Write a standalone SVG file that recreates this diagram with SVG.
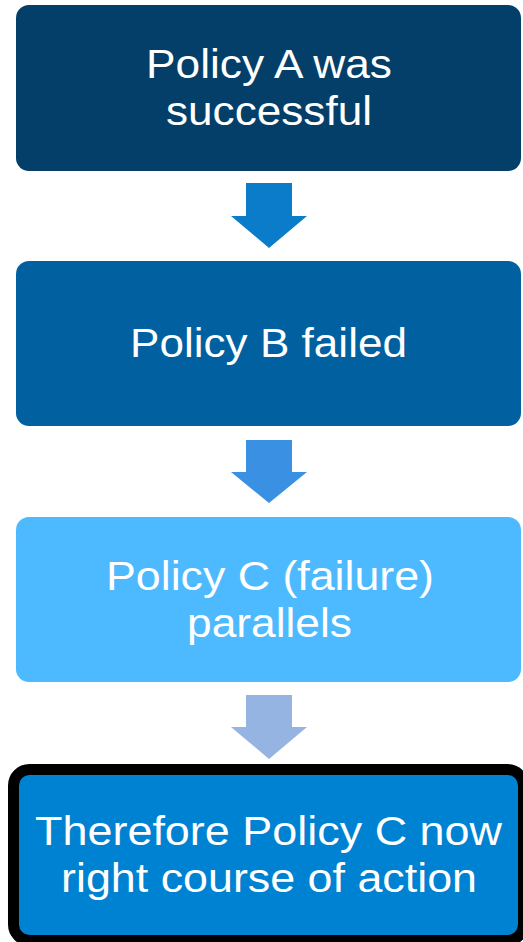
<svg xmlns="http://www.w3.org/2000/svg" width="523" height="942" viewBox="0 0 523 942">
<style>
.t{font-family:"Liberation Sans",Arial,sans-serif;font-size:41px;fill:#fff;text-anchor:middle}
</style>
<rect width="523" height="942" fill="#fff"/>
<g id="connectors">
<polygon points="246,183 292,183 292,216 307,216 269,248 231,216 246,216" fill="#0a7cc9"/>
<polygon points="246,440 292,440 292,472 307,472 269,503 231,472 246,472" fill="#3a90e2"/>
<polygon points="246,695 292,695 292,727 307,727 269,759 231,727 246,727" fill="#95b4e2"/>
</g>
<g id="nodeA">
<rect x="16" y="5" width="505" height="166" rx="13" fill="#033f69"/>
<text class="t" x="269" y="78" textLength="246" lengthAdjust="spacingAndGlyphs">Policy A was</text>
<text class="t" x="269" y="125" textLength="206" lengthAdjust="spacingAndGlyphs">successful</text>
</g>
<g id="nodeB">
<rect x="16" y="261" width="505" height="165" rx="13" fill="#0060a0"/>
<text class="t" x="268.5" y="357" textLength="277" lengthAdjust="spacingAndGlyphs">Policy B failed</text>
</g>
<g id="nodeC">
<rect x="16" y="517" width="505" height="165" rx="13" fill="#4dbaff"/>
<text class="t" x="270" y="590" textLength="328" lengthAdjust="spacingAndGlyphs">Policy C (failure)</text>
<text class="t" x="269.5" y="637" textLength="165" lengthAdjust="spacingAndGlyphs">parallels</text>
</g>
<g id="nodeD">
<rect x="13.5" y="769.5" width="510" height="171" rx="16" fill="#0082d2" stroke="#000" stroke-width="11"/>
<text class="t" x="268.5" y="845" textLength="467" lengthAdjust="spacingAndGlyphs">Therefore Policy C now</text>
<text class="t" x="269" y="892" textLength="416" lengthAdjust="spacingAndGlyphs">right course of action</text>
</g>
</svg>
